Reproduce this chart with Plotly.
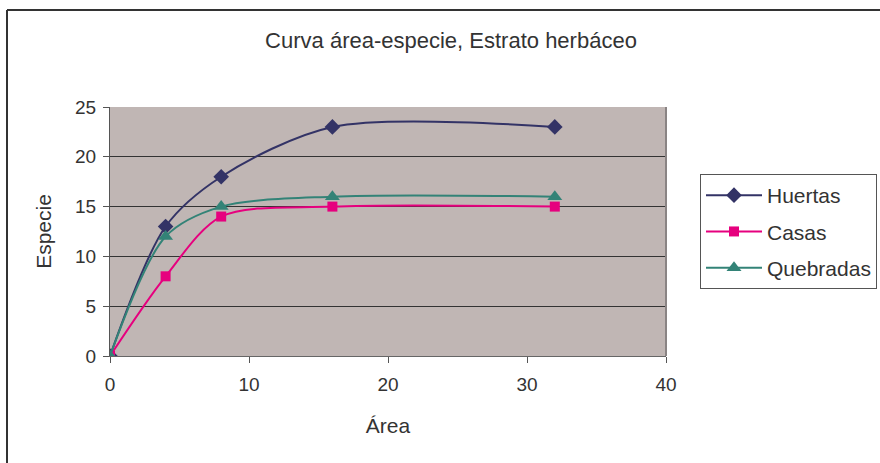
import plotly.graph_objects as go

# Species-area curve, herbaceous stratum
area = [0, 4, 8, 16, 32]
huertas = [0, 13, 18, 23, 23]
casas = [0, 8, 14, 15, 15]
quebradas = [0, 12, 15, 16, 16]

x_ticks = [0, 10, 20, 30, 40]
y_ticks = [0, 5, 10, 15, 20, 25]

FONT = "Liberation Sans, Arial, sans-serif"
TEXT = "#333333"

series = [
    ("Huertas", huertas, "#333366", "diamond", 12),
    ("Casas", casas, "#E6007E", "square", 10),
    ("Quebradas", quebradas, "#338377", "triangle-up", 13),
]

fig = go.Figure()
for name, vals, color, sym, size in series:
    fig.add_trace(go.Scatter(
        x=area, y=vals, name=name, mode="lines+markers", legendgroup=name,
        line=dict(color=color, width=2, shape="spline", smoothing=0.85),
        marker=dict(symbol=sym, size=size, color=color),
    ))

W, H = 880, 463
L, R, T, B = 110, 214, 107, 107
pw, ph = W - L - R, H - T - B

def px(x):
    return (x - L) / pw

def py(y):
    return (H - B - y) / ph

fig.update_layout(
    width=W, height=H,
    margin=dict(l=L, r=R, t=T, b=B, autoexpand=False),
    paper_bgcolor="white",
    plot_bgcolor="#C0B6B4",
    font=dict(family=FONT, color=TEXT, size=19),
    title=dict(text="Curva área-especie, Estrato herbáceo",
               x=451 / W, xanchor="center",
               y=1 - 40 / H, yanchor="middle",
               font=dict(size=22, color=TEXT)),
    showlegend=True,
    legend=dict(x=px(700), y=py(174), xanchor="left", yanchor="top",
                bgcolor="white", bordercolor="#555555", borderwidth=1,
                font=dict(size=21, color=TEXT), tracegroupgap=6,
                itemwidth=56),
    xaxis=dict(range=[0, 40], tickvals=x_ticks, showgrid=False,
               zeroline=False, showline=True, linecolor="#666666",
               linewidth=1, ticks="outside", ticklen=6,
               tickcolor="#555555", mirror=False, ticklabelstandoff=5,
               title=dict(text="Área", font=dict(size=21), standoff=24)),
    yaxis=dict(range=[0, 25], tickvals=y_ticks, showgrid=True,
               gridcolor="#333333", gridwidth=1, zeroline=False,
               showline=True, linecolor="#555555", linewidth=1,
               ticks="outside", ticklen=6, tickcolor="#555555",
               ticklabelstandoff=3,
               title=dict(text="Especie", font=dict(size=21), standoff=17)),
)

# grey frame on the right edge of the plot area
fig.add_shape(type="line", xref="paper", yref="paper",
              x0=1, x1=1, y0=0, y1=1, line=dict(color="#8A8484", width=2))

# chart border (top and left edges)
fig.add_shape(type="line", xref="paper", yref="paper",
              x0=px(7), x1=px(W + 5), y0=py(10), y1=py(10),
              line=dict(color="#333333", width=2))
fig.add_shape(type="line", xref="paper", yref="paper",
              x0=px(7), x1=px(7), y0=py(10), y1=py(H + 5),
              line=dict(color="#333333", width=2))

fig.write_html("out.html")
